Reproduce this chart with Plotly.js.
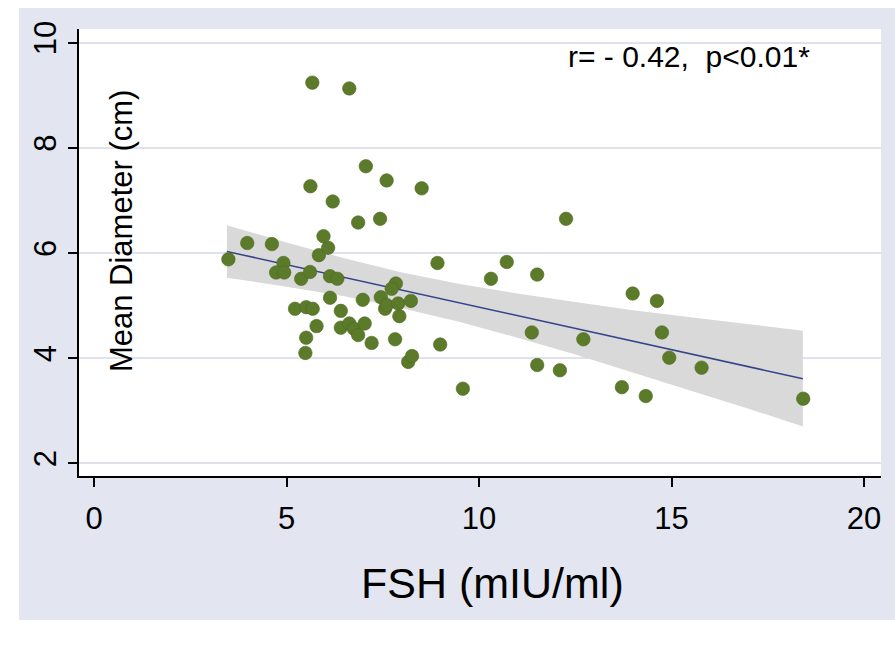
<!DOCTYPE html>
<html>
<head>
<meta charset="utf-8">
<script src="https://cdn.plot.ly/plotly-3.0.1.min.js"></script>
<style>
  html, body { margin: 0; padding: 0; background: #ffffff; width: 895px; height: 647px; overflow: hidden; }
  #chart { position: absolute; left: 19px; top: 8px; width: 876px; height: 612px; }
</style>
</head>
<body>
<div id="chart"></div>
<script>
// FSH (mIU/ml) values of the observations
const fsh = [
  3.49, 3.98, 4.62, 4.92, 4.73, 4.94, 5.38, 5.61, 5.84, 6.08,
  5.96, 6.13, 6.32, 6.13, 6.98, 5.22, 5.51, 5.68, 6.41, 5.78,
  5.51, 5.49, 6.41, 6.63, 6.75, 6.86, 7.03, 7.21, 7.45, 7.56,
  7.60, 7.84, 7.73, 7.90, 8.23, 7.93, 7.82, 8.92, 8.99, 8.16,
  8.26, 9.58, 5.67, 6.63, 7.06, 5.62, 7.60, 8.51, 6.20, 7.43,
  6.86, 12.26, 10.72, 10.31, 11.51, 13.99, 14.62, 11.37, 12.71, 14.75,
  11.51, 12.10, 14.94, 15.78, 13.71, 14.33, 18.42
];
// Mean diameter (cm) of the observations
const diameter = [
  5.88, 6.19, 6.17, 5.81, 5.63, 5.63, 5.51, 5.64, 5.96, 6.10,
  6.32, 5.56, 5.51, 5.15, 5.11, 4.94, 4.97, 4.94, 4.90, 4.61,
  4.39, 4.10, 4.58, 4.66, 4.56, 4.44, 4.66, 4.29, 5.16, 4.94,
  5.01, 5.42, 5.32, 5.04, 5.09, 4.80, 4.36, 5.81, 4.26, 3.93,
  4.04, 3.42, 9.24, 9.13, 7.65, 7.27, 7.38, 7.23, 6.98, 6.65,
  6.58, 6.65, 5.83, 5.51, 5.59, 5.23, 5.09, 4.49, 4.36, 4.49,
  3.87, 3.77, 4.01, 3.82, 3.45, 3.28, 3.23
];
// Fitted line and 95% CI band
const fitX     = [3.45, 5.0, 6.5, 8.0, 9.5, 11.0, 12.5, 14.0, 15.5, 17.0, 18.41];
const fitY     = [6.03, 5.78, 5.54, 5.29, 5.05, 4.81, 4.57, 4.32, 4.08, 3.84, 3.61];
const ciUpper  = [6.53, 6.20, 5.90, 5.63, 5.41, 5.23, 5.07, 4.91, 4.78, 4.65, 4.52];
const ciLower  = [5.53, 5.36, 5.18, 4.95, 4.69, 4.39, 4.07, 3.73, 3.38, 3.04, 2.70];

const xTicks = [0, 5, 10, 15, 20];
const yTicks = [2, 4, 6, 8, 10];
const xTitle = "FSH (mIU/ml)";
const yTitle = "Mean Diameter (cm)";
const statText = "r= - 0.42,\u00a0 p<0.01*";

const FONT = "Liberation Sans, Arial, Helvetica, sans-serif";

const traces = [
  {
    x: fitX.concat(fitX.slice().reverse()),
    y: ciUpper.concat(ciLower.slice().reverse()),
    type: "scatter", mode: "lines", fill: "toself",
    fillcolor: "#d9d9d9", line: { width: 0, color: "#d9d9d9" },
    hoverinfo: "skip", showlegend: false
  },
  {
    x: fitX, y: fitY, type: "scatter", mode: "lines",
    line: { color: "#34448a", width: 1.5 }, showlegend: false
  },
  {
    x: fsh, y: diameter, type: "scatter", mode: "markers",
    marker: { color: "#5b7a2a", size: 13.5, line: { color: "#4e6b22", width: 0.6 } },
    showlegend: false
  }
];

const layout = {
  width: 876, height: 612,
  paper_bgcolor: "#e3e6f1",
  plot_bgcolor: "#ffffff",
  margin: { l: 60, r: 14, t: 21, b: 144, pad: 0 },
  font: { family: FONT, color: "#000000" },
  showlegend: false,
  xaxis: {
    range: [-0.39, 20.44],
    tickvals: xTicks, ticktext: xTicks.map(String),
    showgrid: false, zeroline: false,
    showline: true, linecolor: "#000000", linewidth: 2,
    ticks: "outside", ticklen: 9, tickwidth: 2, tickcolor: "#000000",
    tickfont: { size: 31, family: FONT, color: "#000000" },
    ticklabelstandoff: 5,
    automargin: false
  },
  yaxis: {
    range: [1.76, 10.26],
    tickvals: yTicks, ticktext: yTicks.map(String),
    tickangle: -90,
    showgrid: true, gridcolor: "#dfe2ee", gridwidth: 2,
    zeroline: false,
    showline: true, linecolor: "#000000", linewidth: 2,
    ticks: "outside", ticklen: 9, tickwidth: 2, tickcolor: "#000000",
    tickfont: { size: 31, family: FONT, color: "#000000" },
    automargin: false
  },
  annotations: [
    {
      text: xTitle, xref: "paper", yref: "paper",
      x: 0.516, y: -0.24, xanchor: "center", yanchor: "middle",
      showarrow: false,
      font: { size: 43, family: FONT, color: "#000000" }
    },
    {
      text: yTitle, xref: "paper", yref: "paper",
      x: 0.0524, y: 0.548, xanchor: "center", yanchor: "middle",
      textangle: -90, showarrow: false,
      font: { size: 31, family: FONT, color: "#000000" }
    },
    {
      text: statText, xref: "paper", yref: "paper",
      x: 0.760, y: 0.938, xanchor: "center", yanchor: "middle",
      showarrow: false,
      font: { size: 30, family: FONT, color: "#000000" }
    }
  ]
};

Plotly.newPlot("chart", traces, layout, { displayModeBar: false, staticPlot: true });
</script>
</body>
</html>
